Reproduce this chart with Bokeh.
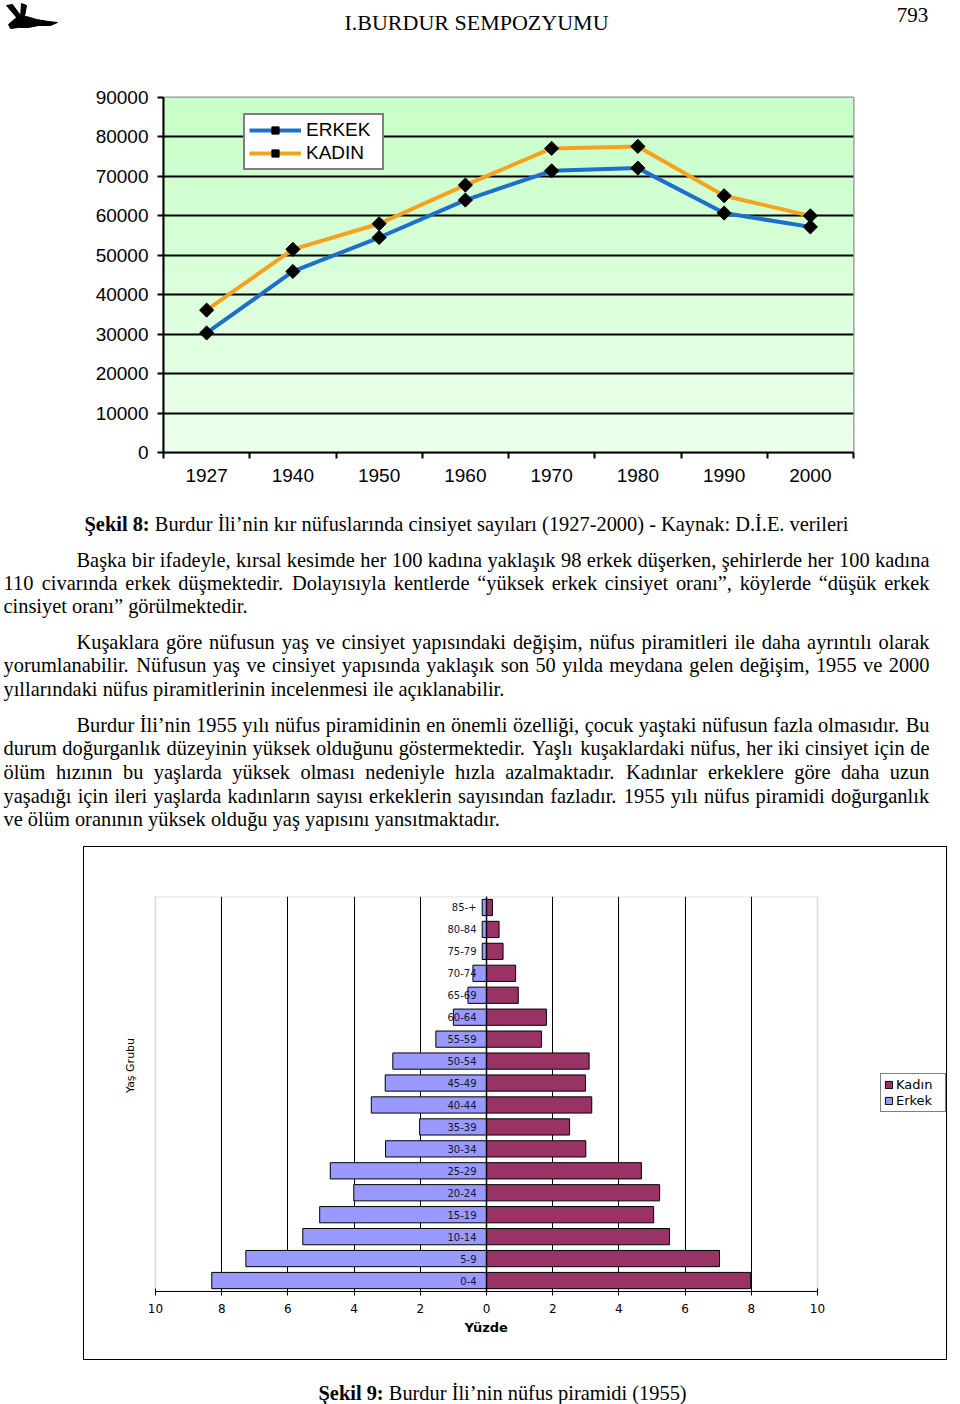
import numpy as np
from bokeh.plotting import figure
from bokeh.models import (Range1d, FactorRange, FixedTicker, NumeralTickFormatter,
                          Legend, LegendItem, Span, Label, Spacer, BoxAnnotation)
from bokeh.layouts import column, row
from bokeh.core.properties import value
from bokeh.embed import file_html
from bokeh.resources import INLINE

# ---------------- data: line chart (Şekil 8)
years = ["1927", "1940", "1950", "1960", "1970", "1980", "1990", "2000"]
erkek_pop = [30300, 45900, 54500, 64000, 71400, 72100, 60700, 57200]
kadin_pop = [36100, 51500, 58000, 67800, 77100, 77600, 65100, 60000]
pop_ticks = [0, 10000, 20000, 30000, 40000, 50000, 60000, 70000, 80000, 90000]

# ---------------- data: population pyramid (Şekil 9)
age_groups = ["0-4", "5-9", "10-14", "15-19", "20-24", "25-29", "30-34", "35-39",
              "40-44", "45-49", "50-54", "55-59", "60-64", "65-69", "70-74",
              "75-79", "80-84", "85-+"]
erkek_pct = [8.30, 7.27, 5.55, 5.04, 4.01, 4.72, 3.05, 2.02, 3.48, 3.06, 2.83,
             1.53, 1.00, 0.56, 0.41, 0.13, 0.13, 0.13]
kadin_pct = [7.98, 7.04, 5.53, 5.05, 5.23, 4.68, 3.00, 2.51, 3.18, 2.99, 3.10,
             1.66, 1.81, 0.96, 0.88, 0.50, 0.38, 0.18]
pct_ticks = [-10, -8, -6, -4, -2, 0, 2, 4, 6, 8, 10]

# ---------------- texts
header_title = "I.BURDUR SEMPOZYUMU"
page_no = "793"
cap8_bold = "Şekil 8:"
cap8_rest = "Burdur İli’nin kır nüfuslarında cinsiyet sayıları (1927-2000) - Kaynak: D.İ.E. verileri"
cap9_bold = "Şekil 9:"
cap9_rest = "Burdur İli’nin nüfus piramidi (1955)"
paragraphs = [
    ["Başka bir ifadeyle, kırsal kesimde her 100 kadına yaklaşık 98 erkek düşerken, şehirlerde her 100 kadına",
     "110 civarında erkek düşmektedir. Dolayısıyla kentlerde “yüksek erkek cinsiyet oranı”, köylerde “düşük erkek",
     "cinsiyet oranı” görülmektedir."],
    ["Kuşaklara göre nüfusun yaş ve cinsiyet yapısındaki değişim, nüfus piramitleri ile daha ayrıntılı olarak",
     "yorumlanabilir. Nüfusun yaş ve cinsiyet yapısında yaklaşık son 50 yılda meydana gelen değişim, 1955 ve 2000",
     "yıllarındaki nüfus piramitlerinin incelenmesi ile açıklanabilir."],
    ["Burdur İli’nin 1955 yılı nüfus piramidinin en önemli özelliği, çocuk yaştaki nüfusun fazla olmasıdır. Bu",
     "durum doğurganlık düzeyinin yüksek olduğunu göstermektedir. Yaşlı kuşaklardaki nüfus, her iki cinsiyet için de",
     "ölüm hızının bu yaşlarda yüksek olması nedeniyle hızla azalmaktadır. Kadınlar erkeklere göre daha uzun",
     "yaşadığı için ileri yaşlarda kadınların sayısı erkeklerin sayısından fazladır. 1955 yılı nüfus piramidi doğurganlık",
     "ve ölüm oranının yüksek olduğu yaş yapısını yansıtmaktadır."],
]

SERIF = "Liberation Serif"
SANS = "Liberation Sans"
BODY_FS = 20.4
W = 960

# Times (Liberation Serif) advance widths, 1/1000 em
TW = {' ': 250, '(': 333, ')': 333, ',': 250, '-': 333, '.': 250, ':': 278, ';': 278,
      '“': 444, '”': 444, '’': 333, '‘': 333, '"': 408,
      'A': 722, 'B': 667, 'C': 667, 'D': 722, 'E': 611, 'F': 556, 'G': 722, 'H': 722,
      'I': 333, 'J': 389, 'K': 722, 'L': 611, 'M': 889, 'N': 722, 'O': 722, 'P': 556,
      'R': 667, 'S': 556, 'T': 611, 'U': 722, 'V': 722, 'Y': 722, 'Z': 611,
      'a': 444, 'b': 500, 'c': 444, 'd': 500, 'e': 444, 'f': 333, 'g': 500, 'h': 500,
      'i': 278, 'j': 278, 'k': 500, 'l': 278, 'm': 778, 'n': 500, 'o': 500, 'p': 500,
      'r': 333, 's': 389, 't': 278, 'u': 500, 'v': 500, 'w': 722, 'y': 500, 'z': 444,
      'ş': 389, 'ı': 278, 'ğ': 500, 'ü': 500, 'ö': 500, 'ç': 444, 'İ': 333, 'Ş': 556,
      'Ü': 722, 'Ö': 722, 'Ç': 667}
TWB = {' ': 250, ':': 333, 'Ş': 556, 'e': 444, 'k': 556, 'i': 278, 'l': 278}


def no_align(p):
    try:
        p.frame_align = False
    except Exception:
        pass
    return p


def tw(s, fs, table=TW):
    return sum(table.get(c, 500) for c in s) * fs / 1000.0


def text_fig(h):
    p = figure(width=W, height=h, x_range=Range1d(0, W), y_range=Range1d(h, 0),
               x_axis_type=None, y_axis_type=None, min_border=0,
               output_backend="svg", toolbar_location=None)
    p.outline_line_color = None
    p.background_fill_color = "white"
    p.border_fill_color = "white"
    return no_align(p)


def put_line(p, line, y, left, right, justify, fs=BODY_FS):
    words = line.split(" ")
    widths = [tw(w, fs) for w in words]
    if justify and len(words) > 1:
        gap = (right - left - sum(widths)) / (len(words) - 1)
    else:
        gap = TW[' '] * fs / 1000.0
    xs, x = [], left
    for w in widths:
        xs.append(x)
        x += w + gap
    p.text(x=xs, y=[y] * len(words), text=words, text_font=value(SERIF),
           text_font_size=f"{fs}px", text_baseline="middle", text_align="left",
           text_color="black")


def put_caption(p, bold, rest, x0, y, fs=BODY_FS):
    p.text(x=[x0], y=[y], text=[bold], text_font=value(SERIF), text_font_style="bold",
           text_font_size=f"{fs}px", text_baseline="middle", text_align="left", text_color="black")
    x1 = x0 + tw(bold, fs, TWB) + TW[' '] * fs / 1000.0
    p.text(x=[x1], y=[y], text=[rest], text_font=value(SERIF),
           text_font_size=f"{fs}px", text_baseline="middle", text_align="left", text_color="black")


# ---------------- header (page y 0..50)
head = text_fig(50)
bird = [
    ([6, 12, 20, 17], [5, 4, 15, 18]),
    ([21, 26, 24, 20], [3, 5, 16, 17]),
    ([8, 16, 26, 36, 48, 57, 50, 38, 28, 18, 10], [24, 17, 16, 19, 21, 22, 25, 25, 27, 27, 28]),
]
head.patches(xs=[b[0] for b in bird], ys=[b[1] for b in bird], color="black")
head.text(x=[476], y=[22], text=[header_title], text_font=value(SERIF), text_font_size="22px",
          text_align="center", text_baseline="middle", text_color="black")
head.text(x=[912], y=[14], text=[page_no], text_font=value(SERIF), text_font_size="21px",
          text_align="center", text_baseline="middle", text_color="black")

# ---------------- line chart (page y 50..500)
xs = list(range(1, len(years) + 1))
lc = figure(width=W, height=450, x_range=Range1d(0.5, len(years) + 0.5),
            y_range=Range1d(pop_ticks[0], pop_ticks[-1]),
            min_border_left=163, min_border_right=107, min_border_top=47, min_border_bottom=48,
            output_backend="svg", toolbar_location=None)
no_align(lc)
lc.background_fill_color = "white"
lc.border_fill_color = "white"
lc.outline_line_color = "#909090"
lc.outline_line_width = 2

n = 80
t = np.linspace(0.0, 1.0, n)
img = np.empty((n, 1), dtype=np.uint32)
view = img.view(dtype=np.uint8).reshape((n, 1, 4))
view[:, 0, 0] = (236 - 36 * t).astype(np.uint8)
view[:, 0, 1] = 255
view[:, 0, 2] = (236 - 36 * t).astype(np.uint8)
view[:, 0, 3] = 255
lc.image_rgba(image=[img], x=0.5, y=pop_ticks[0], dw=len(years), dh=pop_ticks[-1] - pop_ticks[0],
              level="image")

lc.xgrid.visible = False
lc.ygrid.ticker = FixedTicker(ticks=pop_ticks[1:-1])
lc.ygrid.grid_line_color = "black"
lc.ygrid.grid_line_width = 2

BLUE = "#1C6FCB"
ORANGE = "#F5A31F"
r_e = lc.line(xs, erkek_pop, line_color=BLUE, line_width=4)
m_e = lc.scatter(xs, erkek_pop, marker="square", angle=np.pi / 4, size=10, color="black")
r_k = lc.line(xs, kadin_pop, line_color=ORANGE, line_width=4)
m_k = lc.scatter(xs, kadin_pop, marker="square", angle=np.pi / 4, size=10, color="black")

lc.yaxis.ticker = FixedTicker(ticks=pop_ticks)
lc.yaxis.formatter = NumeralTickFormatter(format="0")
lc.xaxis.ticker = FixedTicker(ticks=xs, minor_ticks=[x - 0.5 for x in xs] + [xs[-1] + 0.5])
lc.xaxis.major_label_overrides = {x: y for x, y in zip(xs, years)}
for ax in (lc.xaxis[0], lc.yaxis[0]):
    ax.axis_line_color = "black"
    ax.axis_line_width = 2
    ax.major_label_text_font = SANS
    ax.major_label_text_font_size = "19px"
    ax.major_label_text_color = "black"
    ax.major_tick_line_color = "black"
    ax.major_tick_line_width = 2
    ax.minor_tick_line_color = "black"
    ax.minor_tick_line_width = 2
    ax.major_tick_in = 0
    ax.minor_tick_in = 0
lc.yaxis.major_tick_out = 6
lc.yaxis.minor_tick_out = 0
lc.yaxis.major_label_standoff = 9
lc.xaxis.major_tick_out = 0
lc.xaxis.minor_tick_out = 6
lc.xaxis.major_label_standoff = 10

leg = Legend(items=[LegendItem(label="ERKEK", renderers=[r_e, m_e]),
                    LegendItem(label="KADIN", renderers=[r_k, m_k])],
             location=(80, 282), glyph_width=52, glyph_height=18, label_height=18,
             label_width=72, label_standoff=5, padding=4, spacing=1, margin=0,
             label_text_font=SANS, label_text_font_size="19px", label_text_color="black",
             border_line_color="black", border_line_width=2,
             background_fill_color="white", background_fill_alpha=1)
lc.add_layout(leg)

# ---------------- text block (page y 500..846)
TB_TOP = 500
tb = text_fig(346)
put_caption(tb, cap8_bold, cap8_rest, 84, 523 - TB_TOP)
para_y = [[559, 582, 605], [641, 664, 688], [724, 747, 771, 795, 818]]
LEFT, INDENT, RIGHT = 3, 76, 929
for lines, ys in zip(paragraphs, para_y):
    for i, (ln, y) in enumerate(zip(lines, ys)):
        put_line(tb, ln, y - TB_TOP, INDENT if i == 0 else LEFT, RIGHT,
                 justify=(i < len(lines) - 1))

# ---------------- pyramid (box page x 83..949, y 846..1362)
PW, PH = 864, 514
PX0, PX1 = 71, 733            # -10 and +10 in px from the inner left edge
unit = (PX1 - PX0) / (pct_ticks[-1] - pct_ticks[0])
x_start = pct_ticks[0] - PX0 / unit
x_end = pct_ticks[-1] + (PW - PX1) / unit
pp = figure(width=PW, height=PH, x_range=Range1d(x_start, x_end),
            y_range=FactorRange(factors=age_groups),
            min_border_left=0, min_border_right=0, min_border_top=49, min_border_bottom=70,
            output_backend="svg", toolbar_location=None,
            styles={"border": "1px solid black"})
no_align(pp)
pp.background_fill_color = "white"
pp.border_fill_color = "white"
pp.outline_line_color = None
pp.ygrid.visible = False
pp.xgrid.ticker = FixedTicker(ticks=pct_ticks[1:-1])
pp.xgrid.grid_line_color = "black"
pp.xgrid.grid_line_width = 1
pp.yaxis.visible = False
pp.add_layout(BoxAnnotation(left=pct_ticks[0], right=pct_ticks[-1], fill_color=None,
                            fill_alpha=0, line_color="#808080", line_width=1.5, level="underlay"))

r_er = pp.hbar(y=age_groups, left=[-v for v in erkek_pct], right=0, height=0.74,
               fill_color="#9999FF", line_color="black", line_width=1)
r_ka = pp.hbar(y=age_groups, left=0, right=kadin_pct, height=0.74,
               fill_color="#993366", line_color="black", line_width=1)
pp.add_layout(Span(location=0, dimension="height", line_color="black", line_width=1.5))
pp.text(x=[-0.3] * len(age_groups), y=age_groups, text=age_groups, text_align="right",
        text_baseline="middle", text_font=value("DejaVu Sans"), text_font_size="10px",
        text_color="#141432")

ax = pp.xaxis[0]
ax.ticker = FixedTicker(ticks=pct_ticks)
ax.bounds = (pct_ticks[0], pct_ticks[-1])
ax.major_label_overrides = {v: str(abs(v)) for v in pct_ticks}
ax.major_label_text_font = "DejaVu Sans"
ax.major_label_text_font_size = "12px"
ax.major_label_text_color = "black"
ax.axis_line_color = "black"
ax.major_tick_line_color = "black"
ax.major_tick_out = 4
ax.major_tick_in = 3
ax.minor_tick_out = 0
ax.minor_tick_in = 0
ax.major_label_standoff = 8

# x-axis title "Yüzde", centred under the 0 line
pp.title.text = "Yüzde"
pp.title_location = "below"
pp.title.align = "left"
pp.title.offset = PX0 + 10 * unit - 22
pp.title.text_font = "DejaVu Sans"
pp.title.text_font_size = "13px"
pp.title.text_font_style = "bold"
pp.title.text_color = "black"
pp.title.standoff = 4

pp.add_layout(Label(x=130 - 84, y=226, x_units="screen", y_units="screen", text="Yaş Grubu",
                    angle=np.pi / 2, text_align="center", text_baseline="middle",
                    text_font="DejaVu Sans", text_font_size="11px", text_color="black"))

pleg = Legend(items=[LegendItem(label="Kadın", renderers=[r_ka]),
                     LegendItem(label="Erkek", renderers=[r_er])],
              location=(796, 179), glyph_width=9, glyph_height=9, label_height=15,
              label_width=46, label_standoff=3, padding=3, spacing=1, margin=0,
              label_text_font="DejaVu Sans", label_text_font_size="13px", label_text_color="black",
              border_line_color="black", border_line_width=1,
              background_fill_color="white", background_fill_alpha=1)
pp.add_layout(pleg)

# ---------------- bottom caption (page y 1362..1404)
CB_TOP = 1362
cb = text_fig(42)
put_caption(cb, cap9_bold, cap9_rest, 318, 1392 - CB_TOP)

layout = column(head, lc, tb, row(Spacer(width=83, height=516), pp), cb)
open("out.html", "w").write(file_html(layout, INLINE))
